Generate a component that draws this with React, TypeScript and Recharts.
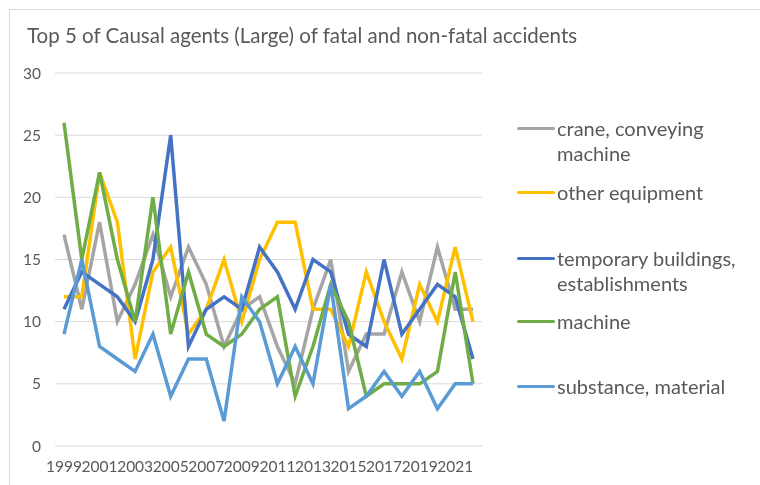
import { LineChart, Line, XAxis, YAxis, CartesianGrid, Legend } from 'recharts';

const years = [
  '1999', '2000', '2001', '2002', '2003', '2004', '2005', '2006', '2007', '2008', '2009', '2010',
  '2011', '2012', '2013', '2014', '2015', '2016', '2017', '2018', '2019', '2020', '2021', '2022',
];

const crane = [17, 11, 18, 10, 13, 17, 12, 16, 13, 8, 11, 12, 8, 5, 11, 15, 6, 9, 9, 14, 10, 16, 11, 11];
const otherEquipment = [12, 12, 22, 18, 7, 14, 16, 9, 11, 15, 10, 15, 18, 18, 11, 11, 8, 14, 10, 7, 13, 10, 16, 10];
const temporaryBuildings = [11, 14, 13, 12, 10, 15, 25, 8, 11, 12, 11, 16, 14, 11, 15, 14, 9, 8, 15, 9, 11, 13, 12, 7];
const machine = [26, 15, 22, 15, 10, 20, 9, 14, 9, 8, 9, 11, 12, 4, 8, 13, 10, 4, 5, 5, 5, 6, 14, 5];
const substance = [9, 15, 8, 7, 6, 9, 4, 7, 7, 2, 12, 10, 5, 8, 5, 13, 3, 4, 6, 4, 6, 3, 5, 5];

const yTicks = [0, 5, 10, 15, 20, 25, 30];

const series = [
  { key: 'crane', name: ['crane, conveying', 'machine'], color: '#A5A5A5', values: crane },
  { key: 'other', name: ['other equipment'], color: '#FFC000', values: otherEquipment },
  { key: 'temp', name: ['temporary buildings,', 'establishments'], color: '#4472C4', values: temporaryBuildings },
  { key: 'machine', name: ['machine'], color: '#70AD47', values: machine },
  { key: 'substance', name: ['substance, material'], color: '#5B9BD5', values: substance },
];

const data = years.map((year, i) => {
  const row: Record<string, string | number> = { year };
  series.forEach((s) => {
    row[s.key] = s.values[i];
  });
  return row;
});

const font = 'Lato, "Open Sans", sans-serif';
const textColor = '#595959';

// legend rows, vertical centres relative to the legend box
const legendCentres = [28, 92, 158, 221, 286];

function ExcelLegend() {
  return (
    <div style={{ position: 'relative', width: 240, height: 310, fontFamily: font, fontSize: 20, color: textColor }}>
      {series.map((s, i) => (
        <div key={s.key} style={{ position: 'absolute', left: 0, top: legendCentres[i] - 12.5, lineHeight: '25px', paddingLeft: 40, whiteSpace: 'nowrap' }}>
          <div style={{ position: 'absolute', left: 0, top: 11, width: 38, height: 3.5, background: s.color, borderRadius: 2 }} />
          {s.name.map((n) => (
            <div key={n}>{n}</div>
          ))}
        </div>
      ))}
    </div>
  );
}

export default function App() {
  return (
    <div style={{ position: 'relative', width: 744, height: 469, background: '#fff' }}>
      <div style={{ position: 'fixed', left: 9, top: 9, width: 800, height: 600, border: '1px solid #d9d9d9' }} />
      <div style={{ position: 'absolute', left: 19, top: 15, fontFamily: font, fontSize: 20.5, color: textColor, whiteSpace: 'nowrap' }}>
        Top 5 of Causal agents (Large) of fatal and non-fatal accidents
      </div>
      <LineChart width={744} height={469} data={data} margin={{ top: 65, right: 270, bottom: 6, left: 17 }}>
        <CartesianGrid vertical={false} stroke="#d9d9d9" strokeWidth={1} />
        <XAxis
          dataKey="year"
          interval={1}
          padding={{ left: 9, right: 9 }}
          axisLine={false}
          tickLine={false}
          tickSize={0}
          tickMargin={15}
          height={25}
          tick={{ fill: textColor, fontSize: 15.5, fontFamily: font }}
        />
        <YAxis
          domain={[0, 30]}
          ticks={yTicks}
          width={30}
          axisLine={false}
          tickLine={false}
          tickSize={0}
          tickMargin={14}
          tick={{ fill: textColor, fontSize: 15.5, fontFamily: font }}
        />
        <Legend
          layout="horizontal"
          verticalAlign="middle"
          wrapperStyle={{ left: 509, top: 92, width: 240 }}
          content={() => <ExcelLegend />}
        />
        {series.map((s) => (
          <Line
            key={s.key}
            type="linear"
            dataKey={s.key}
            stroke={s.color}
            strokeWidth={3.5}
            dot={false}
            isAnimationActive={false}
          />
        ))}
      </LineChart>
    </div>
  );
}
